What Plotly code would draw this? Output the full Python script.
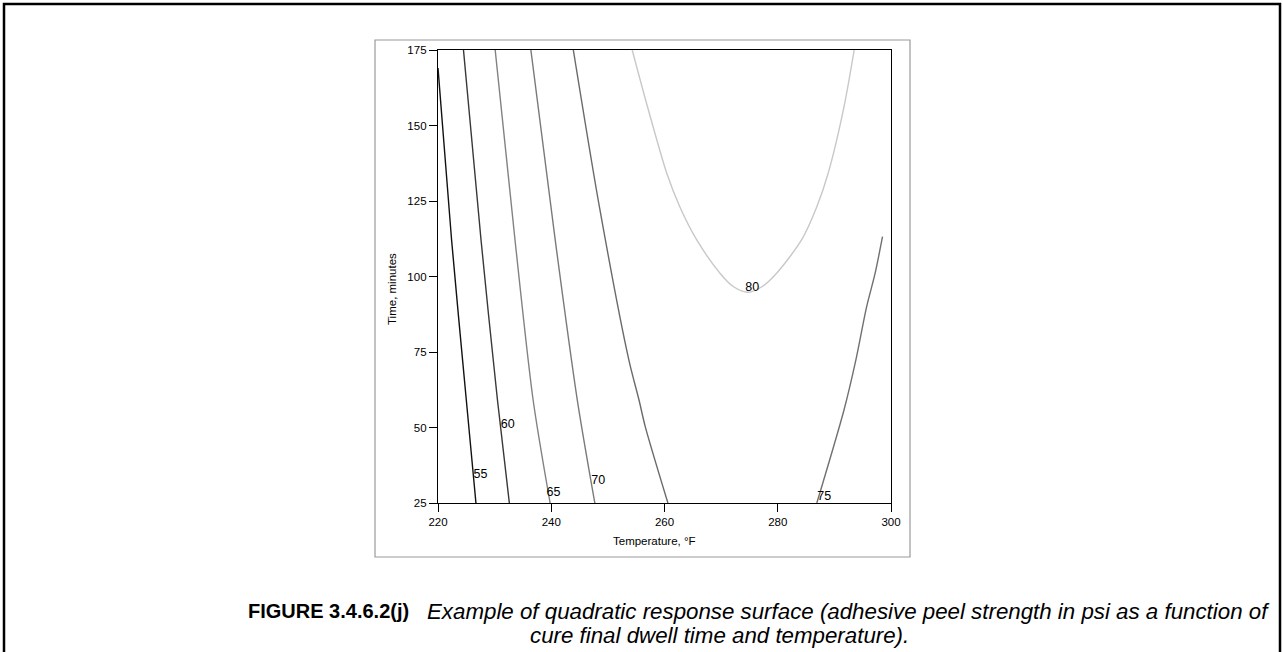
import plotly.graph_objects as go

# ---------------- data ----------------
# contour lines: temperature (°F) and time (minutes)
c55_temp = [220.0, 222.4, 225.0, 226.7]
c55_time = [169.0, 112.1, 59.1, 25.0]

c60_temp = [224.5, 227.6, 230.5, 232.6]
c60_time = [175.0, 112.1, 59.1, 25.0]

c65_temp = [230.1, 233.6, 236.8, 239.8]
c65_time = [175.0, 112.1, 59.1, 25.0]

c70_temp = [236.4, 240.7, 244.6, 247.7]
c70_time = [175.0, 112.1, 59.1, 25.0]

c75a_temp = [243.9, 248.5, 253.7, 255.5, 256.6, 260.6]
c75a_time = [175.0, 123.1, 72.4, 59.1, 50.3, 25.0]

c75b_temp = [286.9, 291.7, 293.8, 295.7, 297.2, 298.5]
c75b_time = [25.0, 55.8, 72.4, 90.0, 101.1, 113.2]

c80_temp = [254.3, 257.0, 260.4, 262.7, 265.7, 269.8, 272.2, 274.8,
            277.2, 279.8, 284.2, 286.9, 288.9, 291.7, 293.5]
c80_time = [175.0, 156.2, 134.2, 123.1, 112.1, 101.1, 96.6, 94.8,
            96.6, 101.1, 112.1, 123.1, 134.2, 156.2, 175.0]

label_text = ["55", "60", "65", "70", "75", "80"]
label_temp = [227.5, 232.3, 240.4, 248.3, 288.2, 275.5]
label_time = [34.3, 50.8, 28.2, 32.3, 27.1, 96.1]

x_ticks = [220, 240, 260, 280, 300]
y_ticks = [25, 50, 75, 100, 125, 150, 175]

x_title = "Temperature, °F"
y_title = "Time, minutes"
cap_bold = "FIGURE 3.4.6.2(j)"
cap_line1 = "Example of quadratic response surface (adhesive peel strength in psi as a function of"
cap_line2 = "cure final dwell time and temperature)."

# ---------------- layout geometry (pixels) ----------------
W, H = 1283, 652
PL, PR, PT, PB = 438, 891, 50, 503  # plot area

def px(x):
    return (x - PL) / (PR - PL)

def py(y):
    return (PB - y) / (PB - PT)

FONT = "Arial, Liberation Sans, sans-serif"

fig = go.Figure()

lines = [
    (c55_temp, c55_time, "#111111"),
    (c60_temp, c60_time, "#383838"),
    (c65_temp, c65_time, "#828282"),
    (c70_temp, c70_time, "#7a7a7a"),
    (c75a_temp, c75a_time, "#6a6a6a"),
    (c75b_temp, c75b_time, "#707070"),
    (c80_temp, c80_time, "#c8c8c8"),
]
for t, m, col in lines:
    fig.add_trace(go.Scatter(x=t, y=m, mode="lines",
                             line=dict(color=col, width=1.4, shape="spline", smoothing=0.8),
                             hoverinfo="skip", showlegend=False))

fig.add_trace(go.Scatter(x=label_temp, y=label_time, mode="text", text=label_text,
                         textfont=dict(family=FONT, size=12.5, color="black"),
                         hoverinfo="skip", showlegend=False, cliponaxis=False))

fig.update_xaxes(range=[220, 300], tickvals=x_ticks, ticks="outside", ticklen=8,
                 tickwidth=1, tickcolor="black", showline=True, linecolor="black",
                 linewidth=1.3, mirror=True, showgrid=False, zeroline=False,
                 tickfont=dict(family=FONT, size=11.5, color="black"))
fig.update_yaxes(range=[25, 175], tickvals=y_ticks, ticks="outside", ticklen=8,
                 tickwidth=1, tickcolor="black", showline=True, linecolor="black",
                 linewidth=1.3, mirror=True, showgrid=False, zeroline=False,
                 tickfont=dict(family=FONT, size=11.5, color="black"))

shapes = [
    # outer frame
    dict(type="rect", xref="paper", yref="paper",
         x0=px(4), x1=px(1280), y0=py(700), y1=py(4),
         line=dict(color="black", width=2.5), layer="below"),
    # inner frame around chart
    dict(type="rect", xref="paper", yref="paper",
         x0=px(375), x1=px(910), y0=py(557), y1=py(40),
         line=dict(color="#9a9a9a", width=1.2), layer="below"),
]

annotations = [
    dict(text=x_title, xref="paper", yref="paper", x=px(654), y=py(541),
         showarrow=False, xanchor="center", yanchor="middle",
         font=dict(family=FONT, size=11.5, color="black")),
    dict(text=y_title, xref="paper", yref="paper", x=px(392), y=py(289),
         showarrow=False, xanchor="center", yanchor="middle", textangle=-90,
         font=dict(family=FONT, size=11.5, color="black")),
    dict(text="<b>" + cap_bold + "</b>",
         xref="paper", yref="paper", x=px(246), y=py(611),
         showarrow=False, xanchor="left", yanchor="middle",
         font=dict(family=FONT, size=20, color="black")),
    dict(text="<i>" + cap_line1 + "</i>",
         xref="paper", yref="paper", x=px(425), y=py(611),
         showarrow=False, xanchor="left", yanchor="middle",
         font=dict(family=FONT, size=22.3, color="black")),
    dict(text="<i>" + cap_line2 + "</i>",
         xref="paper", yref="paper", x=px(528), y=py(635),
         showarrow=False, xanchor="left", yanchor="middle",
         font=dict(family=FONT, size=22.3, color="black")),
]

fig.update_layout(width=W, height=H, autosize=False,
                  margin=dict(l=PL, r=W - PR, t=PT, b=H - PB, pad=0),
                  paper_bgcolor="white", plot_bgcolor="white",
                  shapes=shapes, annotations=annotations, showlegend=False)

fig.write_html("out.html", config={"displayModeBar": False},
               post_script="document.body.style.margin='0';document.body.style.overflow='hidden';")
